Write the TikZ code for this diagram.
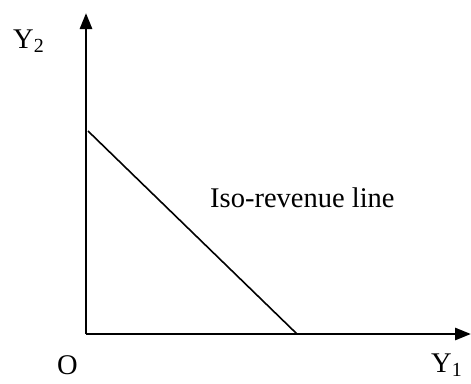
\documentclass[tikz,border=0pt]{standalone}
\usepackage{fontspec}
\setmainfont{Liberation Serif}
\usetikzlibrary{arrows.meta}
\begin{document}
\begin{tikzpicture}[x=1pt,y=1pt,
  axis/.style={line width=2.8pt,-{Triangle[length=16pt,width=12pt]}},
  isoline/.style={line width=1.6pt},
  lbl/.style={inner sep=0pt,anchor=base west,font=\fontsize{28.5}{33}\selectfont}]
\useasboundingbox (0,0) rectangle (471,-383);
\coordinate (o) at (86,-334);
\coordinate (ytip) at (86,-13);
\coordinate (xtip) at (471,-334);
\coordinate (a) at (88,-131);
\coordinate (b) at (297,-334);
\draw[axis] (o) -- (ytip);
\draw[axis] (o) -- (xtip);
\draw[isoline] (a) -- (b);
\node[lbl] (y2) at (13,-48) {Y\textsubscript{2}};
\node[lbl] (O) at (57,-374) {O};
\node[lbl] (y1) at (431,-372) {Y\textsubscript{1}};
\node[lbl] (iso) at (210,-207) {Iso-revenue line};
\end{tikzpicture}
\end{document}
